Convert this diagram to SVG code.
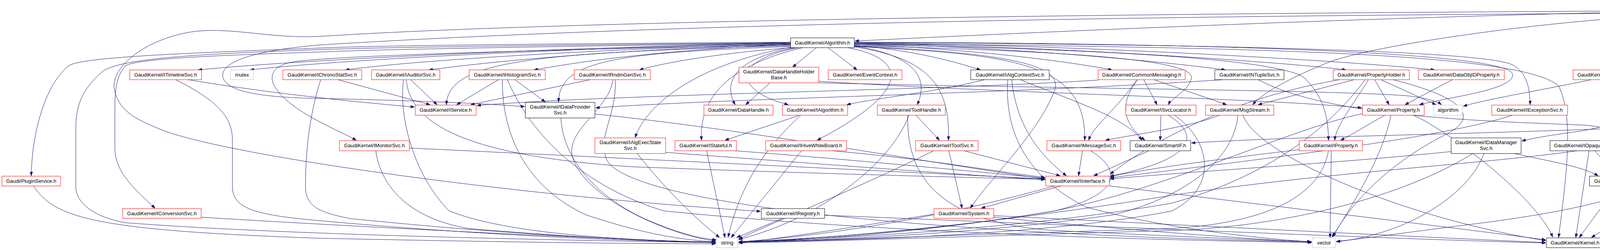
<svg xmlns="http://www.w3.org/2000/svg" width="4893" height="640" viewBox="0 0 4893 640">
<style>
.n rect{fill:#fff;stroke-width:1}
.r rect{stroke:#ff0000}
.b rect{stroke:#000}
.g rect{stroke:#bfbfbf}
.n text{font-family:"Liberation Sans",Arial,sans-serif;font-size:13px;text-anchor:middle;fill:#000}
#edges path{fill:none;stroke:#191970;stroke-width:1;marker-end:url(#arr)}
</style>
<defs>
<marker id="arr" viewBox="0 0 10 7" refX="10" refY="3.5" markerWidth="10" markerHeight="7" markerUnits="userSpaceOnUse" orient="auto">
<path d="M0,0 L10,3.5 L0,7 z" fill="#191970" stroke="#191970"/>
</marker>
</defs>
<rect width="4893" height="640" fill="#fff"/>
<g id="edges">
<path d="M2024,110 C1500,120 800,150 507,179"/>
<path d="M2024,111 C1500,122 900,150 640,179"/>
<path d="M2024,112 C1600,124 1100,150 884,179"/>
<path d="M2024,113 C1600,127 1300,152 1098,179"/>
<path d="M2024,114 C1700,128 1500,155 1367,179"/>
<path d="M2028,122 C1850,135 1700,160 1637,179"/>
<path d="M2090,122 L2029,172"/>
<path d="M2120,122 L2194,179"/>
<path d="M2187,116 C2350,130 2450,160 2510,179"/>
<path d="M2187,114 C2500,125 2750,160 2847,179"/>
<path d="M2187,112 C2600,120 3000,160 3137,179"/>
<path d="M2187,111 C2700,118 3300,160 3446,179"/>
<path d="M2187,110 C2800,115 3500,160 3673,179"/>
<path d="M2187,109 C2900,112 3780,125 3870,165 C3910,185 3917,230 3917,268"/>
<path d="M2024,108 C1500,112 1000,115 820,123 C500,135 220,145 178,167 C120,210 82,330 80,450"/>
<path d="M2024,109 C1500,115 1000,120 820,127 C500,138 300,150 260,185 C210,230 194,270 194,330 L194,477 C194,520 240,555 320,570 C700,600 1400,615 1833,621"/>
<path d="M2024,110 C1500,118 1000,125 820,133 C550,142 340,150 320,170 C298,195 294,230 294,280 L294,377 C294,440 340,480 397,533"/>
<path d="M2024,115 C1500,125 900,140 760,157 C700,165 690,190 700,215 C730,280 860,330 912,359"/>
<path d="M2024,117 C1400,135 1145,150 1143,268"/>
<path d="M2024,119 C1600,135 1430,150 1430,261"/>
<path d="M2035,122 C1880,150 1850,210 1882,268"/>
<path d="M2045,122 C1880,150 1870,230 2018,268"/>
<path d="M2055,122 C1850,170 1790,260 1796,359"/>
<path d="M2024,121 C1760,170 1650,280 1626,352"/>
<path d="M2170,122 C2320,150 2340,230 2092,359"/>
<path d="M2187,118 C2340,140 2380,200 2348,268"/>
<path d="M2187,117 C2700,130 3060,150 3050,200 C3045,230 3000,250 2991,268"/>
<path d="M2187,120 C2380,150 2432,220 2428,359"/>
<path d="M2187,119 C2600,140 2780,160 2777,359"/>
<path d="M2187,118 C2600,135 2720,170 2700,230 C2660,340 2540,450 2484,533"/>
<path d="M2187,108 C3000,110 3860,130 3872,190 C3880,230 3700,250 3634,268"/>
<path d="M2187,114 C2800,125 3280,150 3340,200 C3390,250 3400,300 3401,359"/>
<path d="M2187,112 C3300,120 3900,140 3990,220 C4030,300 4010,450 3990,608"/>
<path d="M4215,30 C3500,45 2700,80 2189,105"/>
<path d="M4295,47 L4145,179"/>
<path d="M4400,47 L4640,97"/>
<path d="M4419,42 L4826,97"/>
<path d="M4215,34 C3000,40 1700,60 820,115 C640,130 570,160 570,193 C572,230 650,250 820,252 C1000,256 1200,262 1343,273"/>
<path d="M4215,28 C3000,34 1500,50 820,93 C700,100 600,70 502,80 C380,95 280,170 293,230 C305,290 360,310 420,335 C600,400 1300,500 1947,541"/>
<path d="M4215,42 C3900,60 3500,120 3400,160 C3300,200 3230,240 3207,268"/>
<path d="M4318,47 C4340,200 4250,300 4050,335 C3980,345 3930,352 3896,361"/>
<path d="M4342,47 C4370,200 4330,310 4165,360"/>
<path d="M4376,47 C4420,200 4400,300 4356,359"/>
<path d="M4400,47 C4520,150 4520,300 4481,443"/>
<path d="M4419,44 C4570,120 4640,250 4638,359"/>
<path d="M4310,47 C4300,250 4250,310 4100,330 C3700,345 3300,350 3050,366"/>
<path d="M4074,204 C3950,230 3800,255 3746,272"/>
<path d="M4179,204 C4300,250 4440,320 4467,443"/>
<path d="M4313,386 L4177,450"/>
<path d="M4330,386 C4280,480 4100,530 3800,570 C3600,595 3500,610 3421,618"/>
<path d="M4336,386 C4300,480 4150,560 4074,608"/>
<path d="M4356,386 L4441,443"/>
<path d="M4575,386 L4220,450"/>
<path d="M4618,386 L4515,443"/>
<path d="M4638,386 C4620,500 4500,520 4300,565 C4200,590 4150,605 4107,620"/>
<path d="M4450,484 C4400,560 4250,590 4107,617"/>
<path d="M4140,476 L4043,608"/>
<path d="M4083,386 L4137,450"/>
<path d="M4068,386 L4034,608"/>
<path d="M4037,386 C3800,420 3400,440 3000,500 C2500,580 2100,612 1891,620"/>
<path d="M3877,393 C3950,410 4050,425 4091,450"/>
<path d="M3715,388 C3400,420 3100,435 2842,458"/>
<path d="M3770,393 C3600,500 3300,580 3000,590 C2500,605 2100,618 1891,622"/>
<path d="M3799,393 C3760,500 3600,600 3421,619"/>
<path d="M3326,383 C3100,410 2950,430 2842,452"/>
<path d="M3401,386 C3380,500 3250,570 3000,585 C2500,600 2100,615 1891,620"/>
<path d="M3408,386 L3405,608"/>
<path d="M3545,295 C3500,320 3470,340 3432,359"/>
<path d="M3561,295 C3540,400 3460,530 3410,607"/>
<path d="M3488,291 C3300,330 3000,480 2700,540 C2400,590 2100,610 1891,619"/>
<path d="M3618,295 C3700,330 3930,500 3975,607"/>
<path d="M3718,204 L3597,268"/>
<path d="M3430,204 C3100,260 2900,400 2842,446"/>
<path d="M3467,204 L3221,268"/>
<path d="M3495,204 C3400,330 3250,450 3000,520 C2600,590 2100,612 1891,619"/>
<path d="M3503,204 C3470,260 3420,320 3417,359"/>
<path d="M3519,204 L3556,268"/>
<path d="M3535,204 L3676,268"/>
<path d="M3566,204 C3750,250 3790,300 3700,345 C3550,420 3450,530 3413,606"/>
<path d="M2928,204 L2962,268"/>
<path d="M2954,204 L3140,268"/>
<path d="M2910,204 C2860,280 2800,320 2787,359"/>
<path d="M2913,204 C2860,270 2880,320 2931,359"/>
<path d="M2811,205 C2400,232 1600,240 1221,270"/>
<path d="M2520,204 C2400,235 2250,250 2168,268"/>
<path d="M2590,204 C2600,300 2640,380 2730,450"/>
<path d="M2580,204 C2570,350 2640,460 2780,530 C3000,590 3250,612 3356,619"/>
<path d="M2612,204 C2750,260 2880,300 2923,359"/>
<path d="M3130,204 C2600,240 1900,250 1525,276"/>
<path d="M3221,204 C3400,300 3800,310 4050,320 C4200,330 4210,400 4168,450"/>
<path d="M2972,295 L2970,359"/>
<path d="M2991,295 C3080,350 3050,410 2842,451"/>
<path d="M3007,295 C3100,360 3120,480 3000,540 C2700,600 2200,615 1891,620"/>
<path d="M3122,295 C3050,325 2900,345 2830,359"/>
<path d="M3169,295 C3160,400 3050,500 2850,550 C2500,600 2100,615 1891,620"/>
<path d="M3182,295 C3220,400 3600,560 3957,616"/>
<path d="M2771,386 L2761,450"/>
<path d="M2792,386 C2880,440 2860,500 2700,540 C2400,590 2100,615 1891,620"/>
<path d="M2941,386 L2800,450"/>
<path d="M2468,386 L2714,450"/>
<path d="M2429,386 L2463,533"/>
<path d="M2390,386 C2200,480 2000,560 1891,612"/>
<path d="M2716,476 L2512,533"/>
<path d="M2841,476 C3200,520 3700,580 3957,614"/>
<path d="M2700,476 C2400,560 2100,605 1891,619"/>
<path d="M2544,552 C3000,575 3600,605 3957,621"/>
<path d="M2391,548 C2200,580 2000,610 1891,622"/>
<path d="M2544,556 C2900,590 3200,612 3358,620"/>
<path d="M2003,559 L1886,608"/>
<path d="M2111,551 C2600,570 3500,610 3957,622"/>
<path d="M1631,393 C1700,480 1780,560 1842,608"/>
<path d="M1704,390 C2100,420 2500,450 2675,460"/>
<path d="M1809,386 L1856,608"/>
<path d="M1882,386 C2200,410 2500,440 2675,456"/>
<path d="M2052,386 L1872,608"/>
<path d="M2131,386 C2400,410 2550,440 2675,454"/>
<path d="M1048,379 C1600,405 2300,440 2675,458"/>
<path d="M962,386 C975,480 1050,560 1200,585 C1500,610 1700,618 1832,621"/>
<path d="M481,204 C700,240 900,260 1061,274"/>
<path d="M450,204 C560,260 595,300 595,360 L595,477 C595,530 640,550 820,565 C1200,600 1600,618 1832,620"/>
<path d="M865,204 L1101,268"/>
<path d="M821,204 C790,300 782,400 782,477 C782,530 820,545 900,560 C1300,600 1600,615 1832,620"/>
<path d="M1051,204 L1119,268"/>
<path d="M1033,204 C1020,300 1060,450 1150,540 C1300,600 1600,615 1832,620"/>
<path d="M1040,204 C1050,320 1200,400 1620,427 C2100,445 2500,455 2675,459"/>
<path d="M1276,204 L1169,268"/>
<path d="M1318,204 L1396,261"/>
<path d="M1286,204 C1285,350 1350,480 1500,550 C1650,600 1750,615 1832,619"/>
<path d="M1299,204 C1360,350 1500,480 1700,540 C2300,600 3000,615 3358,621"/>
<path d="M1511,204 L1205,268"/>
<path d="M1569,204 C1560,280 1450,330 1465,400 C1490,500 1700,600 1832,617"/>
<path d="M1575,204 C1580,300 1520,360 1560,420 C1700,560 2800,610 3358,619"/>
<path d="M1436,302 C1440,400 1520,500 1650,560 C1720,590 1780,610 1834,614"/>
<path d="M1523,292 C1900,330 2400,420 2675,458"/>
<path d="M1971,212 L1909,268"/>
<path d="M2096,212 C2600,225 3400,230 3600,245 C3650,250 3680,260 3690,268"/>
<path d="M2096,208 C2600,240 3200,250 3486,276"/>
<path d="M2047,295 L1856,359"/>
<path d="M2050,295 C1980,360 1900,450 1864,607"/>
<path d="M2345,295 L2405,359"/>
<path d="M2327,295 C2280,420 2100,560 1891,613"/>
<path d="M2324,295 C2320,450 2400,570 2700,590 C3000,605 3250,615 3358,619"/>
<path d="M3872,295 C3700,350 3300,400 2842,455"/>
<path d="M515,556 C900,580 1500,610 1832,621"/>
<path d="M86,476 C140,560 250,590 820,610 C1300,620 1600,624 1832,624"/>
</g>
<g id="root" class="n b"><rect x="4215" y="6" width="204" height="41" style="fill:#bfbfbf"/><text x="4226" y="23" style="text-anchor:start">GaudiCommonSvc/src</text><text x="4226" y="38" style="text-anchor:start">/DataSvc/StoreExplorerAlg.cpp</text></g>
<g id="Algorithm" class="n b"><rect x="2024" y="97" width="163" height="25"/><text x="2105.5" y="114">GaudiKernel/Algorithm.h</text></g>
<g id="SmartDataPtr" class="n r"><rect x="4609" y="97" width="187" height="25"/><text x="4702.5" y="114">GaudiKernel/SmartDataPtr.h</text></g>
<g id="numeric" class="n g"><rect x="4821" y="97" width="67" height="25"/><text x="4854.5" y="114">numeric</text></g>
<g id="ITimelineSvc" class="n r"><rect x="332" y="179" width="184" height="25"/><text x="424" y="196">GaudiKernel/ITimelineSvc.h</text></g>
<g id="mutex" class="n g"><rect x="590" y="179" width="59" height="25"/><text x="619.5" y="196">mutex</text></g>
<g id="IChronoStatSvc" class="n r"><rect x="724" y="179" width="202" height="25"/><text x="825" y="196">GaudiKernel/IChronoStatSvc.h</text></g>
<g id="IAuditorSvc" class="n r"><rect x="951" y="179" width="175" height="25"/><text x="1038.5" y="196">GaudiKernel/IAuditorSvc.h</text></g>
<g id="IHistogramSvc" class="n r"><rect x="1201" y="179" width="195" height="25"/><text x="1298.5" y="196">GaudiKernel/IHistogramSvc.h</text></g>
<g id="IRndmGenSvc" class="n r"><rect x="1470" y="179" width="195" height="25"/><text x="1567.5" y="196">GaudiKernel/IRndmGenSvc.h</text></g>
<g id="DataHandleHolderBase" class="n r"><rect x="1892" y="172" width="204" height="40"/><text x="1994" y="188">GaudiKernel/DataHandleHolder</text><text x="1994" y="203">Base.h</text></g>
<g id="EventContext" class="n r"><rect x="2120" y="179" width="189" height="25"/><text x="2214.5" y="196">GaudiKernel/EventContext.h</text></g>
<g id="IAlgContextSvc" class="n b"><rect x="2485" y="179" width="201" height="25"/><text x="2585.5" y="196">GaudiKernel/IAlgContextSvc.h</text></g>
<g id="CommonMessaging" class="n r"><rect x="2811" y="179" width="223" height="25"/><text x="2922.5" y="196">GaudiKernel/CommonMessaging.h</text></g>
<g id="INTupleSvc" class="n b"><rect x="3110" y="179" width="177" height="25"/><text x="3198.5" y="196">GaudiKernel/INTupleSvc.h</text></g>
<g id="PropertyHolder" class="n r"><rect x="3413" y="179" width="195" height="25"/><text x="3510.5" y="196">GaudiKernel/PropertyHolder.h</text></g>
<g id="DataObjIDProperty" class="n r"><rect x="3631" y="179" width="220" height="25"/><text x="3741" y="196">GaudiKernel/DataObjIDProperty.h</text></g>
<g id="KeyedContainer" class="n r"><rect x="4027" y="179" width="201" height="25"/><text x="4127.5" y="196">GaudiKernel/KeyedContainer.h</text></g>
<g id="IService" class="n r"><rect x="1063" y="269" width="156" height="26"/><text x="1141" y="286">GaudiKernel/IService.h</text></g>
<g id="IDataProviderSvc" class="n b"><rect x="1345" y="262" width="178" height="40"/><text x="1434" y="278">GaudiKernel/IDataProvider</text><text x="1434" y="293">Svc.h</text></g>
<g id="DataHandle" class="n r"><rect x="1802" y="269" width="177" height="26"/><text x="1890.5" y="286">GaudiKernel/DataHandle.h</text></g>
<g id="IAlgorithm" class="n r"><rect x="2003" y="269" width="167" height="26"/><text x="2086.5" y="286">GaudiKernel/IAlgorithm.h</text></g>
<g id="ToolHandle" class="n r"><rect x="2246" y="269" width="174" height="26"/><text x="2333" y="286">GaudiKernel/ToolHandle.h</text></g>
<g id="ISvcLocator" class="n r"><rect x="2882" y="269" width="180" height="26"/><text x="2972" y="286">GaudiKernel/ISvcLocator.h</text></g>
<g id="MsgStream" class="n r"><rect x="3086" y="269" width="175" height="26"/><text x="3173.5" y="286">GaudiKernel/MsgStream.h</text></g>
<g id="Property" class="n r"><rect x="3488" y="269" width="158" height="26"/><text x="3567" y="286">GaudiKernel/Property.h</text></g>
<g id="algorithm" class="n g"><rect x="3670" y="269" width="74" height="26"/><text x="3707" y="286">algorithm</text></g>
<g id="IExceptionSvc" class="n r"><rect x="3819" y="269" width="194" height="26"/><text x="3916" y="286">GaudiKernel/IExceptionSvc.h</text></g>
<g id="IMonitorSvc" class="n r"><rect x="869" y="360" width="179" height="26"/><text x="958.5" y="377">GaudiKernel/IMonitorSvc.h</text></g>
<g id="IAlgExecStateSvc" class="n r"><rect x="1523" y="353" width="181" height="40"/><text x="1613.5" y="369">GaudiKernel/IAlgExecState</text><text x="1613.5" y="384">Svc.h</text></g>
<g id="IStateful" class="n r"><rect x="1728" y="360" width="157" height="26"/><text x="1806.5" y="377">GaudiKernel/IStateful.h</text></g>
<g id="IHiveWhiteBoard" class="n r"><rect x="1960" y="360" width="207" height="26"/><text x="2063.5" y="377">GaudiKernel/IHiveWhiteBoard.h</text></g>
<g id="IToolSvc" class="n r"><rect x="2344" y="360" width="160" height="26"/><text x="2424" y="377">GaudiKernel/IToolSvc.h</text></g>
<g id="IMessageSvc" class="n r"><rect x="2680" y="360" width="189" height="26"/><text x="2774.5" y="377">GaudiKernel/IMessageSvc.h</text></g>
<g id="SmartIF" class="n b"><rect x="2893" y="360" width="155" height="26"/><text x="2970.5" y="377">GaudiKernel/SmartIF.h</text></g>
<g id="IProperty" class="n r"><rect x="3326" y="360" width="162" height="26"/><text x="3407" y="377">GaudiKernel/IProperty.h</text></g>
<g id="IDataManagerSvc" class="n b"><rect x="3715" y="353" width="179" height="40"/><text x="3804.5" y="369">GaudiKernel/IDataManager</text><text x="3804.5" y="384">Svc.h</text></g>
<g id="IOpaqueAddress" class="n b"><rect x="3968" y="360" width="205" height="26"/><text x="4070.5" y="377">GaudiKernel/IOpaqueAddress.h</text></g>
<g id="ObjectVector" class="n r"><rect x="4248" y="360" width="184" height="26"/><text x="4340" y="377">GaudiKernel/ObjectVector.h</text></g>
<g id="ObjectList" class="n r"><rect x="4557" y="360" width="168" height="26"/><text x="4641" y="377">GaudiKernel/ObjectList.h</text></g>
<g id="PluginService" class="n r"><rect x="5" y="451" width="150" height="25"/><text x="80" y="468">Gaudi/PluginService.h</text></g>
<g id="IInterface" class="n r"><rect x="2677" y="451" width="163" height="25"/><text x="2758.5" y="468">GaudiKernel/IInterface.h</text></g>
<g id="ClassID" class="n b"><rect x="4069" y="451" width="157" height="25"/><text x="4147.5" y="468">GaudiKernel/ClassID.h</text></g>
<g id="ObjectContainerBase" class="n r"><rect x="4374" y="444" width="190" height="40"/><text x="4469" y="460">GaudiKernel/ObjectContainer</text><text x="4469" y="475">Base.h</text></g>
<g id="IConversionSvc" class="n r"><rect x="314" y="534" width="201" height="25"/><text x="414.5" y="551">GaudiKernel/IConversionSvc.h</text></g>
<g id="IRegistry" class="n b"><rect x="1949" y="534" width="162" height="25"/><text x="2030" y="551">GaudiKernel/IRegistry.h</text></g>
<g id="System" class="n r"><rect x="2391" y="534" width="153" height="25"/><text x="2467.5" y="551">GaudiKernel/System.h</text></g>
<g id="string" class="n g"><rect x="1834" y="609" width="55" height="25"/><text x="1861.5" y="626">string</text></g>
<g id="vector" class="n g"><rect x="3360" y="609" width="59" height="25"/><text x="3389.5" y="626">vector</text></g>
<g id="Kernel" class="n b"><rect x="3959" y="609" width="146" height="25"/><text x="4032" y="626">GaudiKernel/Kernel.h</text></g>
</svg>
